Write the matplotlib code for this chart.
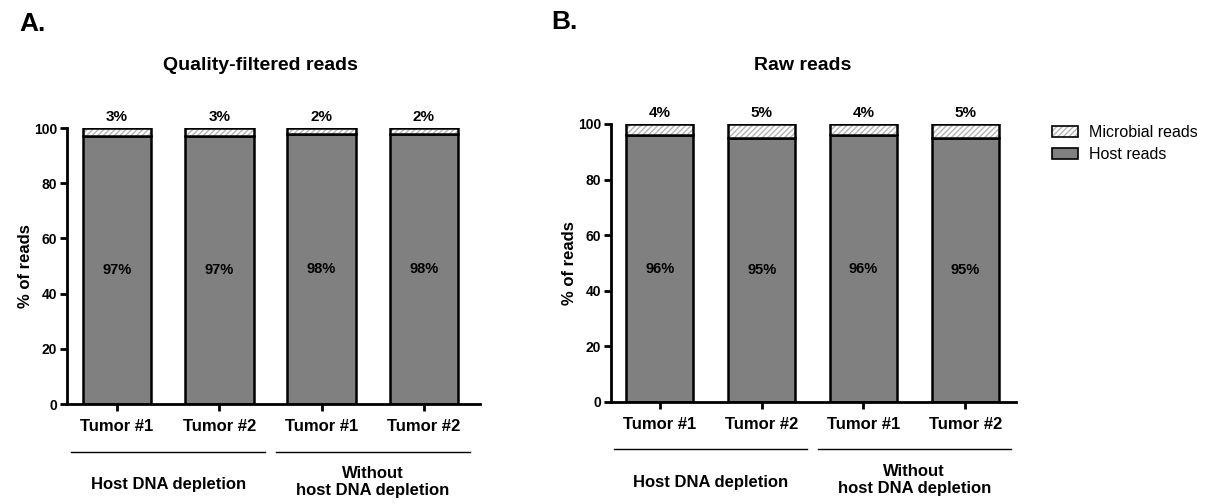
import matplotlib
matplotlib.use("Agg")
import matplotlib.pyplot as plt
import matplotlib.transforms as mtransforms
from matplotlib.patches import Patch
from matplotlib.legend_handler import HandlerTuple

plt.rcParams["font.family"] = ["Liberation Sans", "DejaVu Sans"]

samples = ["Tumor #1", "Tumor #2", "Tumor #1", "Tumor #2"]
groups = ["Host DNA depletion", "Without\nhost DNA depletion"]

# panel A: quality-filtered reads
qf_host = [97, 97, 98, 98]
qf_microbial = [3, 3, 2, 2]

# panel B: raw reads
raw_host = [96, 95, 96, 95]
raw_microbial = [4, 5, 4, 5]

HOST_COLOR = "#808080"
HATCH_COLOR = "#b4b4b4"


def draw_panel(fig, rect, host, micro, title, title_xy, xlim, width,
               line_y, grp_y1, grp_y2):
    ax = fig.add_axes(rect)
    x = list(range(len(host)))

    ax.bar(x, host, width=width, color=HOST_COLOR, edgecolor="black",
           linewidth=1.8, zorder=2)
    # hatch for microbial part, then a black outline on top
    ax.bar(x, micro, bottom=host, width=width, color="white",
           edgecolor=HATCH_COLOR, linewidth=0, hatch="//////", zorder=2)
    ax.bar(x, micro, bottom=host, width=width, fill=False,
           edgecolor="black", linewidth=1.8, zorder=3)

    for xi, h, m in zip(x, host, micro):
        ax.text(xi, h / 2, f"{h}%", ha="center", va="center",
                fontsize=10.5, fontweight="bold", zorder=4)
        ax.text(xi, h + m + 4, f"{m}%", ha="center", va="center",
                fontsize=11, fontweight="bold", clip_on=False)

    ax.set_xlim(*xlim)
    ax.set_ylim(0, 100)
    ax.set_yticks(range(0, 101, 20))
    ax.set_xticks(x)
    ax.set_xticklabels(samples, fontsize=12, fontweight="bold")
    for lbl in ax.get_yticklabels():
        lbl.set_fontweight("bold")
        lbl.set_fontsize(10)
    ax.tick_params(axis="both", width=2, length=5, direction="out")
    ax.tick_params(axis="x", pad=6)
    ax.tick_params(axis="y", pad=2)
    ax.spines["top"].set_visible(False)
    ax.spines["right"].set_visible(False)
    ax.spines["left"].set_linewidth(2)
    ax.spines["bottom"].set_linewidth(2)
    ax.set_ylabel("% of reads", fontsize=12, fontweight="bold", labelpad=1)

    fig.text(title_xy[0], title_xy[1], title, ha="center",
             va="center", fontsize=14, fontweight="bold")

    trans = mtransforms.blended_transform_factory(ax.transData, fig.transFigure)
    spans = [(-0.45, 1.45), (1.55, 3.45)]
    for (a, b), g, gy in zip(spans, groups, [grp_y1, grp_y2]):
        ax.plot([a, b], [line_y, line_y], color="black", linewidth=1,
                transform=trans, clip_on=False)
        ax.text((a + b) / 2, gy, g, transform=trans, ha="center",
                va="center", fontsize=12, fontweight="bold",
                linespacing=1.1)
    return ax


fig = plt.figure(figsize=(12.1, 5.04), dpi=100)

axA = draw_panel(fig, [0.0554, 0.1984, 0.3413, 0.5476], qf_host, qf_microbial,
                 "Quality-filtered reads", (260 / 1210, 1 - 65 / 504),
                 (-0.49, 3.55), 0.67,
                 1 - 452 / 504, 1 - 485 / 504, 1 - 482 / 504)
axB = draw_panel(fig, [0.505, 0.2024, 0.3347, 0.5516], raw_host, raw_microbial,
                 "Raw reads", (803 / 1210, 1 - 66 / 504),
                 (-0.48, 3.5), 0.66,
                 1 - 449 / 504, 1 - 482 / 504, 1 - 480 / 504)

fig.text(19 / 1210, 1 - 24 / 504, "A.", fontsize=19, fontweight="bold",
         ha="left", va="center")
fig.text(551 / 1210, 1 - 22 / 504, "B.", fontsize=19, fontweight="bold",
         ha="left", va="center")

micro_handle = (
    Patch(facecolor="white", edgecolor=HATCH_COLOR, hatch="//////", linewidth=0),
    Patch(fill=False, edgecolor="black", linewidth=1.2),
)
host_handle = Patch(facecolor=HOST_COLOR, edgecolor="black", linewidth=1.2)
fig.legend([micro_handle, host_handle], ["Microbial reads", "Host reads"],
           loc="upper left", bbox_to_anchor=(1052 / 1210, 1 - 125 / 504),
           borderaxespad=0, borderpad=0, frameon=False, fontsize=11.5,
           handlelength=1.6, handleheight=0.7, handletextpad=0.7,
           labelspacing=0.45,
           handler_map={tuple: HandlerTuple(ndivide=1, pad=0)})

fig.savefig("out.png", dpi=100)
